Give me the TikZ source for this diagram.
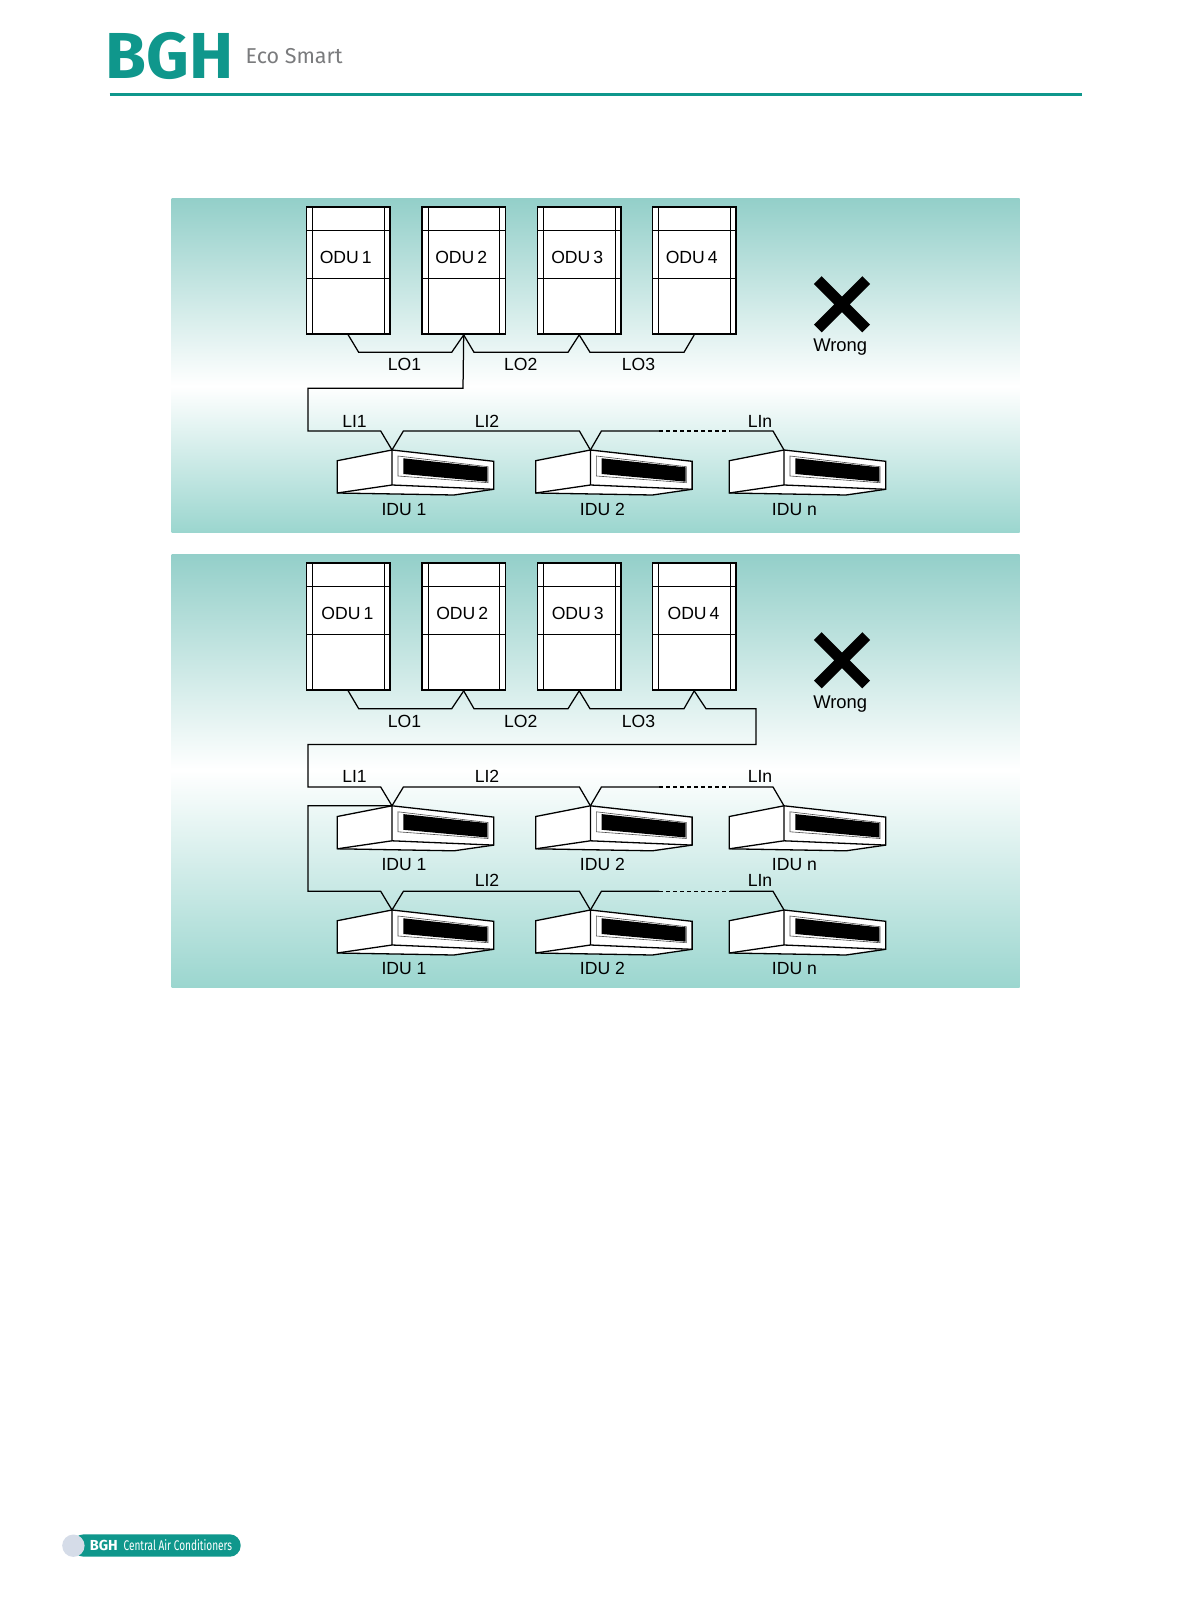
\documentclass[tikz,border=0pt]{standalone}
\usepackage{fontspec}
\usepackage{graphicx}
\setmainfont{Liberation Sans}
\newfontfamily\logofont{Fira Sans}
\usetikzlibrary{calc}
\definecolor{bghteal}{HTML}{0F978C}
\definecolor{paneltop}{HTML}{93CFC9}
\definecolor{panelbot}{HTML}{9BD6CF}
\definecolor{ecogray}{HTML}{7A7B7D}
\definecolor{ballblue}{HTML}{D5DCE8}

\begin{document}
\begin{tikzpicture}[
  x=1pt, y=-1pt, xshift=0.7pt,
  label/.style={inner sep=0pt, font=\fontsize{17.6}{20}\selectfont, text=black},
  odubox/.style={draw, fill=white, line width=1.8pt, minimum width=83.6pt, minimum height=126.7pt, inner sep=0pt},
  thinpart/.style={line width=0.9pt},
  pipe/.style={line width=1.25pt, line join=miter},
  gap/.style={line width=1.25pt, dash pattern=on 4pt off 3pt},
  cross/.style={line width=11pt, black},
  odu/.pic={
    \node[odubox] (-body) at (0,0) {};
    \draw[thinpart] (-35.5,-63.3) -- (-35.5,63.3) (36.2,-63.3) -- (36.2,63.3);
    \draw[thinpart] (-41.8,-40.35) -- (41.8,-40.35) (-41.8,7.65) -- (41.8,7.65);
  },
  idu/.pic={
    \coordinate (-top) at (0,0);
    \draw[fill=white, line width=1.3pt, line join=miter] (0,0) -- (-54.7,10.7) -- (-54.7,43) -- (62,45) -- (101.7,39.3) -- (101.7,11.3) -- cycle;
    \draw[line width=1.3pt] (0,0) -- (0,35) -- (-54.7,43) (0,35) -- (101.7,39.3);
    \draw[line width=0.6pt, draw=black!70, fill=white] (6,6) -- (96,16.7) -- (96,32.7) -- (6,26) -- cycle;
    \fill[black] (11.3,8.3) -- (95.3,17.3) -- (95.3,31.7) -- (11.3,24) -- cycle;
  }
]
\useasboundingbox (-0.7,0) rectangle (1190.3,1616);
\fill[white] (-0.7,0) rectangle (1190.3,1616);

% header
\node[inner sep=0pt, text=bghteal, anchor=center] (logo) at (169,55.5) {\scalebox{1.02}[1]{\logofont\bfseries\fontsize{65}{70}\selectfont BGH}};
\node[inner sep=0pt, text=ecogray, anchor=center] (eco) at (293.5,56.5) {\logofont\fontsize{21.5}{26}\selectfont Eco Smart};
\draw[bghteal, line width=3pt] (109,94.3) -- (1081,94.3);

% first panel
\shade[top color=paneltop, bottom color=white] (171,198.5) rectangle (1019,386);
\shade[top color=white, bottom color=panelbot] (171,386) rectangle (1019,532.5);

\pic (odua) at (347.5,270.65) {odu};
\pic (odub) at (463,270.65) {odu};
\pic (oduc) at (578.5,270.65) {odu};
\pic (odud) at (693.5,270.65) {odu};
\node[label] (odutexta) at (345,257.3) {ODU\,1};
\node[label] (odutextb) at (460.5,257.3) {ODU\,2};
\node[label] (odutextc) at (576.5,257.3) {ODU\,3};
\node[label] (odutextd) at (691,257.3) {ODU\,4};

\pic (idua) at (391.3,450) {idu};
\pic (idub) at (589.7,450) {idu};
\pic (iduc) at (783.3,450) {idu};

\draw[pipe] (odua-body.south) -- (358,352.3) -- (451,352.3) -- (odub-body.south);
\draw[pipe] (odub-body.south) -- (473.3,352.3) -- (567.3,352.3) -- (oduc-body.south);
\draw[pipe] (oduc-body.south) -- (589.3,352.3) -- (683.3,352.3) -- (odud-body.south);
\draw[pipe] (odub-body.south) -- (462.3,388.3) -- (307.3,388.3) -- (307.3,431) -- (380,431) -- (idua-top);
\draw[pipe] (idua-top) -- (402.7,431) -- (578.7,431) -- (idub-top);
\draw[pipe] (idub-top) -- (600.7,431) -- (658.3,431);
\draw[gap] (658.3,431) -- (729.3,431);
\draw[pipe] (729.3,431) -- (772.3,431) -- (iduc-top);

\node[label] (loa) at (403.8,364) {LO1};
\node[label] (lob) at (520,364) {LO2};
\node[label] (loc) at (637.8,364) {LO3};
\node[label] (lia) at (353.8,421) {LI1};
\node[label] (lib) at (486.3,421) {LI2};
\node[label] (lic) at (759.3,421) {LIn};
\node[label] (idutexta) at (403.3,509.3) {IDU 1};
\node[label] (idutextb) at (601.7,509.3) {IDU 2};
\node[label] (idutextc) at (793.7,509.3) {IDU n};

\draw[cross] (817.1,280.1) -- (865.5,328.5) (817.1,328.5) -- (865.5,280.1);
\node[label, font=\fontsize{18.4}{20}\selectfont] (wronga) at (839.5,347.3) {Wrong};

% second panel
\shade[top color=paneltop, bottom color=white] (171,554) rectangle (1019,770);
\shade[top color=white, bottom color=panelbot] (171,770) rectangle (1019,987);

\pic (odue) at (347.5,626.65) {odu};
\pic (oduf) at (463,626.65) {odu};
\pic (odug) at (578.5,626.65) {odu};
\pic (oduh) at (693.5,626.65) {odu};
\node[label] (odutexte) at (346.7,613.3) {ODU\,1};
\node[label] (odutextf) at (461.5,613.3) {ODU\,2};
\node[label] (odutextg) at (577,613.3) {ODU\,3};
\node[label] (odutexth) at (692.8,613.3) {ODU\,4};

\pic (idud) at (391.3,805.8) {idu};
\pic (idue) at (589.7,805.8) {idu};
\pic (iduf) at (783.3,805.8) {idu};
\pic (idug) at (391.3,910) {idu};
\pic (iduh) at (589.7,910) {idu};
\pic (idui) at (783.3,910) {idu};

\draw[pipe] (odue-body.south) -- (358,708.7) -- (451,708.7) -- (oduf-body.south);
\draw[pipe] (oduf-body.south) -- (473.3,708.7) -- (567.3,708.7) -- (odug-body.south);
\draw[pipe] (odug-body.south) -- (589.3,708.7) -- (683.3,708.7) -- (oduh-body.south);
\draw[pipe] (oduh-body.south) -- (705.3,708.7) -- (755.3,708.7) -- (755.3,744.5) -- (307.3,744.5) -- (307.3,787) -- (380,787) -- (idud-top);
\draw[pipe] (idud-top) -- (402.7,787) -- (578.7,787) -- (idue-top);
\draw[pipe] (idue-top) -- (600.7,787) -- (658.3,787);
\draw[gap] (658.3,787) -- (729.3,787);
\draw[pipe] (729.3,787) -- (772.3,787) -- (iduf-top);
\draw[pipe] (idud-top) -- (307.3,805.8) -- (307.3,891.3) -- (380,891.3) -- (idug-top);
\draw[pipe] (idug-top) -- (402.7,891.3) -- (578.7,891.3) -- (iduh-top);
\draw[pipe] (iduh-top) -- (600.7,891.3) -- (658.3,891.3);
\draw[gap] (658.3,891.3) -- (729.3,891.3);
\draw[pipe] (729.3,891.3) -- (772.3,891.3) -- (idui-top);

\node[label] (lod) at (403.8,721.3) {LO1};
\node[label] (loe) at (520,721.3) {LO2};
\node[label] (lof) at (637.8,721.3) {LO3};
\node[label] (lid) at (353.8,776.7) {LI1};
\node[label] (lie) at (486.3,776.7) {LI2};
\node[label] (lif) at (759.3,776.7) {LIn};
\node[label] (lig) at (486.3,880) {LI2};
\node[label] (lih) at (759.3,880.5) {LIn};
\node[label] (idutextd) at (403.3,864.3) {IDU 1};
\node[label] (idutexte) at (601.7,864.3) {IDU 2};
\node[label] (idutextf) at (793.7,864.3) {IDU n};
\node[label] (idutextg) at (403.3,968.3) {IDU 1};
\node[label] (idutexth) at (601.7,968.3) {IDU 2};
\node[label] (idutexti) at (793.7,968.3) {IDU n};

\draw[cross] (817.1,636.1) -- (865.5,684.5) (817.1,684.5) -- (865.5,636.1);
\node[label, font=\fontsize{18.4}{20}\selectfont] (wrongb) at (839.5,704) {Wrong};

% footer
\fill[bghteal, rounded corners=11pt] (72,1534.3) rectangle (240,1556.7);
\fill[ballblue] (72.7,1545.7) circle (11.2);
\node[inner sep=0pt, text=white, anchor=west] (footlogo) at (89,1545.5) {\logofont\bfseries\fontsize{14.5}{16}\selectfont BGH};
\node[inner sep=0pt, text=white, anchor=west] (foottext) at (122.7,1545.5) {\scalebox{0.72}[1]{\logofont\fontsize{14}{16}\selectfont Central Air Conditioners}};
\end{tikzpicture}
\end{document}
